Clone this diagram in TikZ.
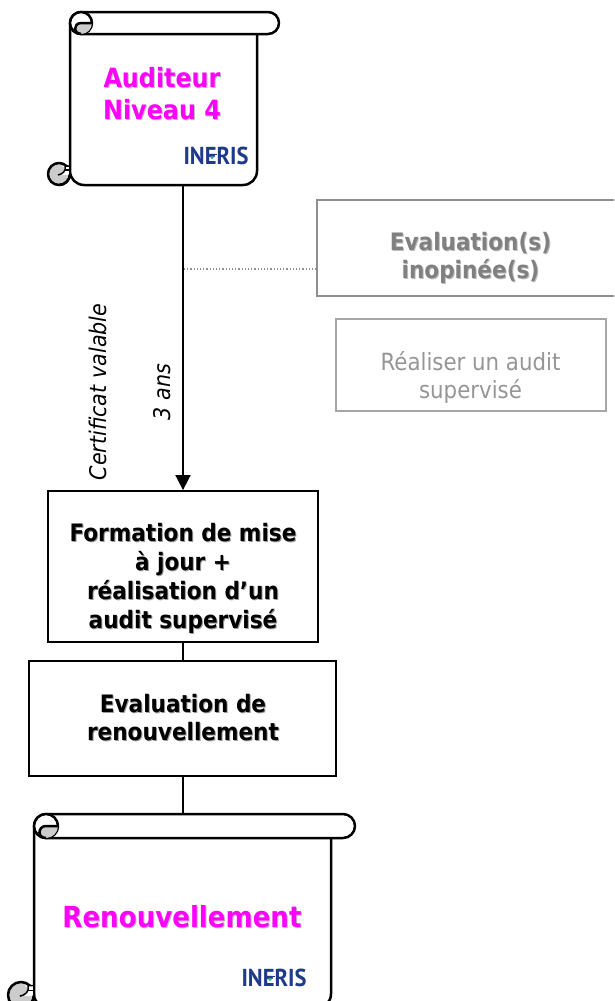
\documentclass[tikz,border=0pt]{standalone}
\usepackage{fontspec}
\setmainfont{DejaVu Sans Condensed}[BoldFont={DejaVu Sans Condensed Bold},ItalicFont={DejaVu Sans Condensed Oblique}]
\newfontfamily\logofont{PT Sans}
\usetikzlibrary{arrows.meta,shadows}
\definecolor{rollgray}{HTML}{CCCCCC}
\definecolor{logoblue}{HTML}{1F3A8A}
\definecolor{logogreen}{HTML}{2FB37A}
\definecolor{vivid}{HTML}{FF00FF}
\definecolor{softshadow}{HTML}{BDBDBD}
\definecolor{blackshadow}{HTML}{9A9A9A}
\definecolor{greytext}{HTML}{808080}
\definecolor{greytexttwo}{HTML}{969696}
\definecolor{greyline}{HTML}{8F8F8F}
\definecolor{greylinetwo}{HTML}{A6A6A6}
\newcommand{\shtxt}[2]{\leavevmode\rlap{\kern1pt\raisebox{-1pt}{\color{#1}#2}}#2}
% #1 left, #2 body right, #3 roll right, #4 top, #5 bottom, #6 roll radius, #7 lower curl radius
\newcommand{\scrollshape}[7]{%
  \draw[scrollline,fill=white,rounded corners=14pt] (#1,#4+#6) -- (#1,#5) -- (#2,#5) -- (#2,#4+#6);
  \draw[scrollline,fill=white,rounded corners=#6pt] (#1,#4) rectangle (#3,#4+2*#6);
  % upper curl
  \begin{scope}[shift={(#1,#4)},scale=#6/11]
    \draw[scrollline,fill=white] (11,11) circle[radius=11];
    \fill[rollgray] (21,11) -- (11,11) .. controls (7,11) and (5,14) .. (5,17)
      .. controls (5,20) and (8,22) .. (11,22) .. controls (17,22) and (22,17) .. (22,11) -- cycle;
    \draw[scrollline] (22,11) -- (11,11) .. controls (7,11) and (5,14) .. (5,17)
      .. controls (5,20) and (8,22) .. (11,22);
  \end{scope}
  % lower curl
  \begin{scope}[shift={(#1,#5)},scale=#7/11]
    \draw[scrollline,fill=rollgray] (-11,-11) circle[radius=11];
    \fill[white] (-8,-19) .. controls (-4,-18) and (-4,-13) .. (-11,-10) -- (0,-10) -- (0,-19) -- cycle;
    \draw[line width=1.5pt] (0,-19) -- (-5,-19) .. controls (-4,-14) and (-7,-11) .. (-12,-10);
    \draw[line width=1.5pt] (0,-15) -- (-5,-15);
    \draw[scrollline] (0,-22) -- (0,-9);
    \draw[scrollline] (-11,0) .. controls (-5,0) and (0,-5) .. (0,-11);
  \end{scope}
}
\tikzset{
  x=1pt,y=-1pt,
  scrollline/.style={line width=2.5pt,black,line join=round},
  softdrop/.style={drop shadow={shadow xshift=1pt,shadow yshift=-1.2pt,fill=black,opacity=.3}},
  flowbox/.style={draw=black,line width=2.3pt,fill=white,inner sep=0pt,softdrop},
  greybox/.style={line width=2pt,fill=white,inner sep=0pt},
  conn/.style={line width=1.7pt,black},
  boldtext/.style={font=\bfseries\fontsize{24}{28.8}\selectfont,align=center,inner sep=0pt},
  greybold/.style={font=\bfseries\fontsize{24}{28}\selectfont,align=center,inner sep=0pt,text=greytext},
  plaintext/.style={font=\fontsize{23.7}{28}\selectfont,align=center,inner sep=0pt,text=greytexttwo},
  titretext/.style={font=\bfseries\fontsize{26.5}{32}\selectfont,text=vivid,align=center,inner sep=0pt},
  vlabel/.style={rotate=90,font=\itshape\fontsize{23}{25}\selectfont,inner sep=0pt},
  logotext/.style={font=\logofont\fontsize{24.5}{24.5}\selectfont\bfseries,text=logoblue,inner sep=0pt,xscale=.92},
  anchorbox/.style={inner sep=0pt,draw=none},
}
\begin{document}
\begin{tikzpicture}
\useasboundingbox (0,0) rectangle (614,1001);
\clip (0,0) rectangle (614,1001);
\fill[white] (0,0) rectangle (614,1001);

% anchors and boxes
\node[anchorbox,minimum width=187pt,minimum height=173pt] (audit) at (163.5,98.5) {};
\node[anchorbox,minimum width=297pt,minimum height=24pt] (ren) at (182.5,826) {};
\node[flowbox,minimum width=269.5pt,minimum height=150.5pt] (form) at (183,566.5) {};
\node[flowbox,minimum width=307pt,minimum height=115pt] (eval) at (182.5,718.5) {};
\node[greybox,draw=greyline,minimum width=320pt,minimum height=96pt] (inop) at (477,248) {};
\node[greybox,draw=greylinetwo,minimum width=270pt,minimum height=92pt] (sup) at (471,365) {};
\coordinate (dotstart) at (184,269);
\coordinate (dotend) at (inop.west |- dotstart);

% connectors
\draw[conn,-{Triangle[length=15pt,width=15pt]}] (audit.south -| form.north) -- (form.north);
\draw[conn] (form.south) -- (form.south |- eval.north);
\draw[conn] (form.south |- eval.south) -- (form.south |- ren.north);
\draw[line width=1.2pt,greyline,dotted] (dotstart) -- (dotend);

% scrolls
\scrollshape{70}{257}{279}{12}{185}{11}{11}
\scrollshape{34}{331}{355}{814}{1008}{12}{13}

% texts
\node[titretext] (t1) at (162,94) {\shtxt{softshadow}{Auditeur}\\\shtxt{softshadow}{Niveau 4}};
\node[titretext,font=\bfseries\fontsize{29}{32}\selectfont] (t2) at (182,917) {\shtxt{softshadow}{Renouvellement}};
\node[boldtext] (t3) at (183,579) {\shtxt{blackshadow}{Formation de mise}\\\shtxt{blackshadow}{à jour +}\\\shtxt{blackshadow}{réalisation d’un}\\\shtxt{blackshadow}{audit supervisé}};
\node[boldtext] (t4) at (183,718) {\shtxt{blackshadow}{Evaluation de}\\\shtxt{blackshadow}{renouvellement}};
\node[greybold] (t5) at (470.5,258) {\shtxt{softshadow}{Evaluation(s)}\\\shtxt{softshadow}{inopinée(s)}};
\node[plaintext] (t6) at (470.5,377) {Réaliser un audit\\supervisé};
\node[vlabel] (v1) at (98,392) {Certificat valable};
\node[vlabel] (v2) at (162,392) {3 ans};

% logos
\node[logotext] (l1) at (216,155.5) {INERIS};
\draw[logoblue,line width=1.6pt] (207,154.5) -- (217,154.5);
\fill[logogreen] (212,157.5) circle[radius=1.6];
\node[logotext] (l2) at (274,977.5) {INERIS};
\draw[logoblue,line width=1.6pt] (265,976.5) -- (275,976.5);
\fill[logogreen] (270,979.5) circle[radius=1.6];
\end{tikzpicture}
\end{document}
